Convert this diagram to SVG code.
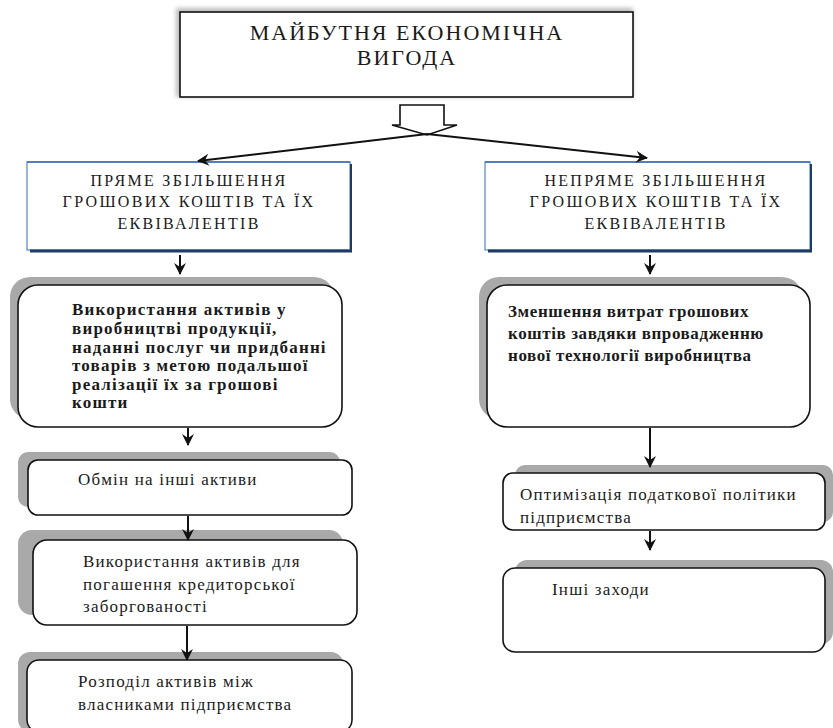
<svg xmlns="http://www.w3.org/2000/svg" width="833" height="728" viewBox="0 0 833 728" font-family="'Liberation Serif', 'Times New Roman', serif">
<defs>
<style>
text{fill:#1a1a1a}
.title{font-size:22px;letter-spacing:2px}
.cap{font-size:16px;letter-spacing:2.3px}
.bl{font-size:17px;font-weight:bold;letter-spacing:1.2px}
.br{font-size:17px;font-weight:bold;letter-spacing:0.6px}
.n{font-size:17px;letter-spacing:1.2px}
.box{fill:#fff;stroke:#111;stroke-width:1.6}
.sh{fill:#a9a9a9}
.blue{fill:#fff;stroke:#6d97cc;stroke-width:1.4}
.conn{stroke:#111;stroke-width:2;fill:none}
</style>
<filter id="blur" x="-10%" y="-10%" width="120%" height="120%"><feGaussianBlur stdDeviation="2"/></filter>
<marker id="ah" viewBox="0 0 12 12" refX="11" refY="6" markerWidth="12" markerHeight="12" markerUnits="userSpaceOnUse" orient="auto">
<path d="M0,0 L12,6 L0,12 L4,6 Z" fill="#111"/>
</marker>
</defs>
<rect width="833" height="728" fill="#fff"/>

<g id="top">
<rect x="176" y="8" width="457" height="89" fill="#bdbdbd" filter="url(#blur)"/>
<rect x="180" y="12" width="453" height="85" fill="#fff" stroke="#111" stroke-width="1.6"/>
<text class="title" x="407" y="40" text-anchor="middle">МАЙБУТНЯ ЕКОНОМІЧНА</text>
<text class="title" x="407" y="65" text-anchor="middle">ВИГОДА</text>
</g>

<g id="direct">
<rect class="blue" x="27" y="162" width="323" height="88"/>
<line x1="27" y1="162" x2="350" y2="162" stroke="#4f7fbf" stroke-width="2"/>
<line x1="351" y1="164" x2="351" y2="251" stroke="#1f3a63" stroke-width="2"/>
<line x1="30" y1="251" x2="352" y2="251" stroke="#1f3a63" stroke-width="3"/>
<text class="cap" x="189" y="186" text-anchor="middle">ПРЯМЕ ЗБІЛЬШЕННЯ</text>
<text class="cap" x="189" y="207" text-anchor="middle">ГРОШОВИХ КОШТІВ ТА ЇХ</text>
<text class="cap" x="189" y="229" text-anchor="middle">ЕКВІВАЛЕНТІВ</text>
</g>

<g id="indirect">
<rect class="blue" x="485" y="162" width="325" height="88"/>
<line x1="485" y1="162" x2="810" y2="162" stroke="#4f7fbf" stroke-width="2"/>
<line x1="811" y1="164" x2="811" y2="251" stroke="#1f3a63" stroke-width="2"/>
<line x1="488" y1="251" x2="812" y2="251" stroke="#1f3a63" stroke-width="3"/>
<text class="cap" x="656" y="186" text-anchor="middle">НЕПРЯМЕ ЗБІЛЬШЕННЯ</text>
<text class="cap" x="656" y="207" text-anchor="middle">ГРОШОВИХ КОШТІВ ТА ЇХ</text>
<text class="cap" x="656" y="229" text-anchor="middle">ЕКВІВАЛЕНТІВ</text>
</g>

<g id="l1">
<rect class="sh" x="10" y="277" width="324" height="142" rx="20"/>
<rect class="box" x="18" y="285" width="324" height="142" rx="20"/>
<text class="bl" x="72" y="315">Використання активів у</text>
<text class="bl" x="72" y="334">виробництві  продукції,</text>
<text class="bl" x="72" y="353">наданні послуг чи придбанні</text>
<text class="bl" x="72" y="371">товарів з метою подальшої</text>
<text class="bl" x="72" y="390">реалізації їх за грошові</text>
<text class="bl" x="72" y="408">кошти</text>
</g>

<g id="l2">
<rect class="sh" x="18" y="452" width="322" height="55" rx="10"/>
<rect class="box" x="28" y="460" width="324" height="55" rx="10"/>
<text class="n" x="78" y="485">Обмін на інші активи</text>
</g>

<g id="l3">
<rect class="sh" x="18" y="530" width="325" height="85" rx="14"/>
<rect class="box" x="33" y="540" width="324" height="85" rx="14"/>
<text class="n" x="83" y="567">Використання активів для</text>
<text class="n" x="83" y="590">погашення кредиторської</text>
<text class="n" x="83" y="612">заборгованості</text>
</g>

<g id="l4">
<rect class="sh" x="18" y="652" width="325" height="80" rx="12"/>
<rect class="box" x="27" y="660" width="325" height="72" rx="12"/>
<text class="n" x="78" y="687">Розподіл активів між</text>
<text class="n" x="78" y="710">власниками підприємства</text>
</g>

<g id="r1">
<rect class="sh" x="479" y="277" width="323" height="142" rx="20"/>
<rect class="box" x="487" y="285" width="323" height="142" rx="20"/>
<text class="br" x="508" y="317">Зменшення витрат грошових</text>
<text class="br" x="508" y="339">коштів завдяки впровадженню</text>
<text class="br" x="508" y="361">нової технології виробництва</text>
</g>

<g id="r2">
<rect class="sh" x="515" y="465" width="318" height="57" rx="10"/>
<rect class="box" x="503" y="473" width="322" height="57" rx="10"/>
<text class="n" x="520" y="500">Оптимізація податкової політики</text>
<text class="n" x="520" y="523">підприємства</text>
</g>

<g id="r3">
<rect class="sh" x="515" y="560" width="318" height="84" rx="12"/>
<rect class="box" x="503" y="568" width="322" height="84" rx="12"/>
<text class="n" x="552" y="595">Інші заходи</text>
</g>

<g id="connectors">
<polygon points="400,105 444,105 444,125 457,125 427,135 392,125 400,125" fill="#fff" stroke="#111" stroke-width="1.6"/>
<line class="conn" x1="427" y1="134" x2="198" y2="161" marker-end="url(#ah)"/>
<line class="conn" x1="427" y1="134" x2="647" y2="158" marker-end="url(#ah)"/>
<line class="conn" x1="180" y1="255" x2="180" y2="274" marker-end="url(#ah)"/>
<line class="conn" x1="650" y1="255" x2="650" y2="274" marker-end="url(#ah)"/>
<line class="conn" x1="188" y1="428" x2="188" y2="445" marker-end="url(#ah)"/>
<line class="conn" x1="188" y1="516" x2="188" y2="540" marker-end="url(#ah)"/>
<line class="conn" x1="187" y1="626" x2="187" y2="660" marker-end="url(#ah)"/>
<line class="conn" x1="650" y1="428" x2="650" y2="467" marker-end="url(#ah)"/>
<line class="conn" x1="650" y1="531" x2="650" y2="550" marker-end="url(#ah)"/>
</g>
</svg>
